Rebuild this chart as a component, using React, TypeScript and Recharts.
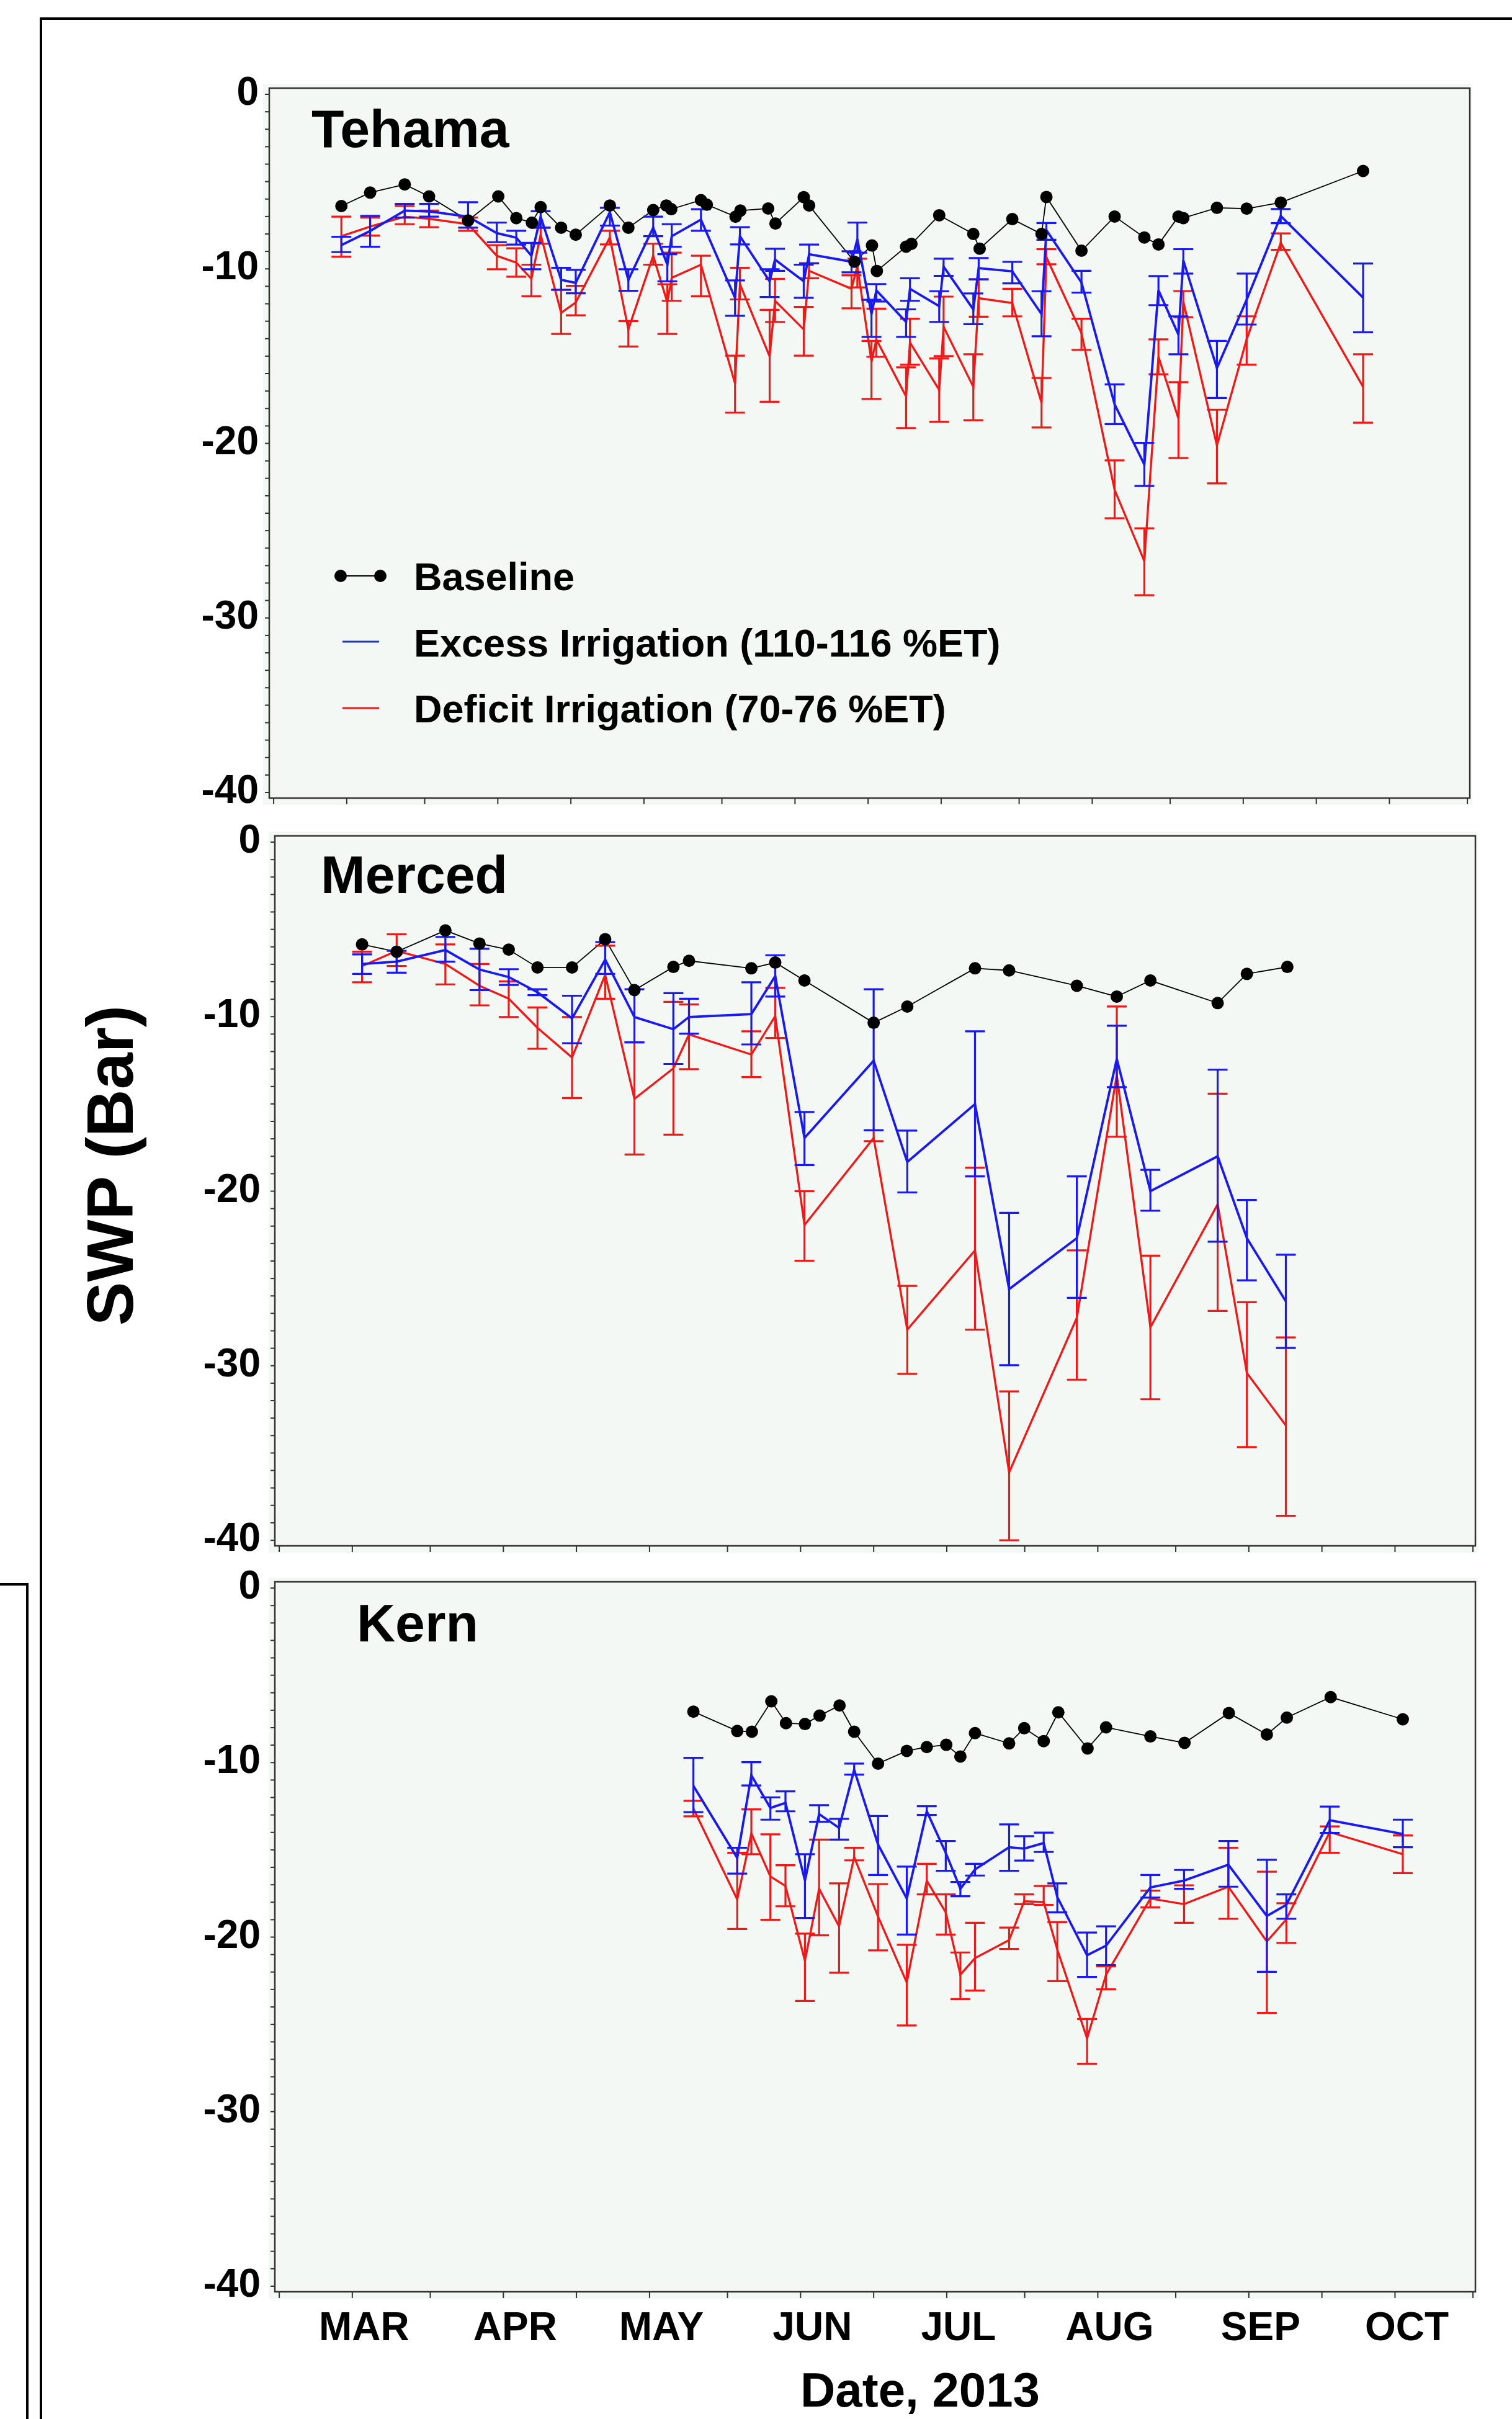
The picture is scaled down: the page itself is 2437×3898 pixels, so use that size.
import React from "react";
import { ComposedChart, Line, ErrorBar, XAxis, YAxis, ReferenceArea } from "recharts";

const FONT = "'Liberation Sans', Arial, Helvetica, sans-serif";
const FRAME = "#333333";
const BLUE = "#1a1aee";
const RED = "#ee1a1a";
const PANEL_BG = "#f4f8f4";

// x axis is the day of year (2013); ticks at the 1st and mid of each month
const xTicks = [45, 60, 76, 91, 106, 121, 137, 152, 167, 182, 198, 213, 229, 244, 259, 274, 290];
const monthDays = [60, 91, 121, 152, 182, 213, 244, 274];
const monthNames = ["MAR", "APR", "MAY", "JUN", "JUL", "AUG", "SEP", "OCT"];
const yMajor = [0, -10, -20, -30, -40];
const yTicks = Array.from({ length: 41 }, (_, i) => -i);

// ---- Tehama ----
const tehamaBaseDays = [58.9, 64.8, 71.9, 76.9, 84.9, 91.1, 94.8, 98.0, 99.8, 104.0, 107.0, 114.0, 117.8, 122.9, 125.6, 126.6, 132.7, 133.9, 139.8, 140.8, 146.5, 148.0, 153.8, 154.9, 164.2, 167.8, 168.8, 174.8, 175.9, 181.6, 188.6, 189.9, 196.6, 202.6, 203.6, 210.8, 217.6, 223.7, 226.6, 230.7, 231.7, 238.6, 244.7, 251.7, 268.6];
const tehamaBase = [-6.4, -5.63, -5.16, -5.85, -7.23, -5.85, -7.09, -7.35, -6.46, -7.64, -8.04, -6.37, -7.64, -6.63, -6.37, -6.58, -6.06, -6.32, -7.01, -6.66, -6.54, -7.4, -5.89, -6.37, -9.59, -8.66, -10.12, -8.73, -8.57, -6.93, -8.0, -8.84, -7.15, -8.0, -5.88, -8.96, -7.0, -8.2, -8.6, -7.0, -7.09, -6.5, -6.55, -6.2, -4.39];
const tehamaDays = [58.9, 64.8, 71.9, 76.9, 84.9, 90.8, 94.8, 97.9, 99.8, 104.0, 107.0, 114.0, 117.8, 122.9, 125.8, 126.7, 132.7, 139.7, 140.7, 146.8, 147.9, 153.8, 154.9, 163.6, 164.8, 167.7, 168.7, 174.8, 175.6, 181.6, 182.5, 188.6, 189.7, 196.6, 202.6, 203.6, 210.8, 217.6, 223.7, 226.6, 230.7, 231.7, 238.6, 244.7, 251.7, 268.6];
const tehamaExcess = [-8.64, -7.83, -6.66, -6.71, -7.01, -7.95, -8.21, -9.25, -7.01, -10.63, -10.8, -6.75, -10.63, -7.64, -9.76, -8.13, -7.18, -11.66, -8.13, -10.71, -9.47, -10.71, -9.16, -9.59, -8.3, -12.59, -11.23, -13.04, -11.14, -12.14, -9.87, -12.32, -9.96, -10.14, -12.59, -7.78, -10.78, -17.76, -21.21, -11.23, -13.77, -9.51, -15.68, -11.77, -6.97, -11.65];
const tehamaExcessHi = [-8.16, -6.96, -6.28, -6.28, -6.18, -7.35, -7.82, -8.51, -6.7, -9.94, -10.06, -6.5, -10.02, -7.01, -9.16, -7.44, -6.58, -10.66, -7.61, -10.02, -8.85, -9.76, -8.61, -8.99, -7.35, -11.77, -10.87, -12.32, -10.54, -11.28, -9.42, -11.41, -9.38, -9.6, -11.28, -7.37, -10.11, -16.62, -19.97, -10.41, -12.72, -8.87, -14.13, -10.27, -6.57, -9.69];
const tehamaExcessLo = [-9.04, -8.73, -7.06, -7.01, -7.64, -8.47, -8.61, -10.02, -7.64, -11.2, -11.4, -7.52, -11.26, -8.13, -10.71, -8.73, -7.82, -12.69, -8.6, -11.61, -10.11, -11.66, -9.68, -10.2, -9.07, -13.9, -11.87, -13.9, -11.83, -13.04, -10.4, -13.17, -10.6, -10.83, -13.86, -8.33, -11.36, -18.89, -22.44, -12.08, -14.89, -10.27, -17.4, -13.19, -7.38, -13.63];
const tehamaDeficit = [-8.13, -7.58, -7.01, -7.13, -7.44, -9.25, -9.64, -10.57, -8.04, -12.52, -11.92, -8.2, -13.47, -9.25, -11.92, -10.51, -9.76, -16.57, -10.88, -15.02, -11.83, -13.47, -10.11, -11.14, -9.85, -15.31, -14.04, -17.31, -14.22, -16.94, -13.32, -16.76, -11.68, -11.96, -17.67, -9.33, -13.68, -22.66, -26.74, -15.04, -18.58, -11.87, -20.12, -14.04, -8.51, -16.76];
const tehamaDeficitHi = [-7.01, -7.06, -6.4, -6.66, -7.06, -8.64, -8.82, -9.76, -7.64, -11.2, -10.97, -7.82, -12.99, -8.56, -10.88, -9.07, -9.25, -14.97, -9.94, -12.35, -10.57, -12.18, -9.68, -10.37, -9.42, -14.13, -12.28, -15.64, -12.86, -15.13, -11.59, -14.89, -10.6, -11.14, -16.25, -8.87, -12.86, -20.97, -24.87, -14.04, -16.49, -11.27, -18.07, -12.72, -7.97, -14.89];
const tehamaDeficitLo = [-9.3, -8.09, -7.44, -7.61, -7.82, -10.02, -10.45, -11.57, -8.56, -13.73, -12.66, -8.6, -14.45, -9.76, -13.73, -11.83, -11.57, -18.24, -11.75, -17.61, -13.04, -14.97, -10.54, -12.26, -11.06, -17.45, -15.04, -19.12, -15.49, -18.76, -15.0, -18.67, -12.74, -12.72, -19.09, -9.74, -14.64, -24.29, -28.7, -16.04, -20.84, -12.77, -22.29, -15.49, -8.91, -18.81];

// ---- Merced ----
const mercedBaseDays = [62.0, 69.1, 79.1, 86.1, 92.1, 98.0, 105.1, 111.9, 117.9, 125.9, 129.1, 141.9, 146.8, 152.8, 167.0, 173.9, 187.8, 194.8, 208.7, 216.9, 223.8, 237.6, 243.6, 251.9];
const mercedBase = [-5.86, -6.28, -5.06, -5.81, -6.16, -7.18, -7.18, -5.56, -8.48, -7.15, -6.8, -7.23, -6.9, -7.93, -10.35, -9.42, -7.23, -7.35, -8.23, -8.85, -7.93, -9.22, -7.55, -7.15];
const mercedDays = [62.0, 69.1, 79.1, 86.1, 92.1, 98.0, 105.1, 111.9, 117.9, 125.9, 129.1, 141.9, 146.8, 152.8, 167.0, 173.9, 187.8, 194.8, 208.7, 216.9, 223.8, 237.6, 243.6, 251.6];
const mercedExcess = [-6.98, -6.85, -6.18, -7.3, -7.73, -8.6, -10.1, -6.73, -10.02, -10.72, -10.02, -9.85, -7.68, -16.95, -12.52, -18.33, -15.01, -25.61, -22.69, -12.42, -20.0, -18.0, -22.69, -26.31];
const mercedExcessHi = [-6.43, -6.23, -5.43, -6.11, -7.28, -8.43, -8.8, -5.73, -8.43, -8.65, -8.97, -8.03, -6.48, -15.46, -8.43, -16.53, -10.84, -21.24, -19.15, -10.52, -18.78, -13.04, -20.5, -23.64];
const mercedExcessLo = [-7.55, -7.48, -6.85, -8.48, -8.18, -8.77, -11.52, -7.55, -11.47, -12.71, -10.97, -11.59, -8.85, -18.5, -16.51, -20.07, -19.15, -29.97, -26.11, -14.04, -21.12, -22.89, -25.11, -28.98];
const mercedDeficit = [-7.1, -6.23, -6.98, -8.23, -8.97, -10.64, -12.34, -7.6, -14.71, -12.96, -11.02, -12.17, -9.97, -21.94, -16.95, -27.93, -23.39, -36.11, -27.25, -13.34, -27.8, -20.75, -30.42, -33.42];
const mercedDeficitHi = [-6.28, -5.28, -5.86, -6.98, -7.98, -9.47, -10.02, -5.93, -11.47, -9.15, -9.3, -10.84, -8.35, -20.0, -16.51, -25.43, -18.65, -31.47, -23.39, -9.42, -23.69, -14.41, -26.36, -28.38];
const mercedDeficitLo = [-8.03, -7.1, -8.15, -9.35, -10.02, -11.84, -14.66, -8.97, -17.9, -16.76, -13.01, -13.46, -11.22, -23.99, -17.13, -30.47, -27.93, -40.0, -30.8, -16.88, -31.92, -26.86, -34.66, -38.6];

// ---- Kern ----
const kernBaseDays = [130.0, 139.0, 142.0, 146.0, 149.0, 152.9, 155.9, 160.0, 163.0, 167.9, 173.8, 177.9, 181.9, 184.8, 187.8, 194.8, 197.9, 201.9, 204.9, 210.9, 214.7, 223.8, 230.8, 239.9, 247.7, 251.8, 260.8, 275.6];
const kernBase = [-7.08, -8.19, -8.23, -6.49, -7.74, -7.79, -7.31, -6.73, -8.23, -10.06, -9.33, -9.11, -8.98, -9.65, -8.31, -8.9, -8.03, -8.77, -7.12, -9.19, -7.98, -8.5, -8.87, -7.16, -8.39, -7.42, -6.25, -7.52];
const kernDays = [130.0, 139.0, 141.9, 145.8, 148.9, 152.9, 155.8, 159.9, 163.0, 167.9, 173.8, 177.9, 181.8, 184.8, 187.8, 194.8, 197.9, 201.9, 204.7, 210.8, 214.7, 223.8, 230.7, 239.8, 247.7, 251.7, 260.6, 275.6];
const kernExcess = [-11.33, -15.46, -10.73, -12.6, -12.31, -16.76, -12.95, -13.74, -10.41, -14.69, -17.79, -12.79, -15.17, -17.23, -16.12, -14.85, -14.93, -14.61, -17.71, -21.04, -20.49, -17.15, -16.76, -15.85, -18.79, -18.15, -13.3, -14.09];
const kernExcessHi = [-9.73, -14.88, -9.98, -11.99, -11.65, -15.25, -12.44, -13.22, -10.06, -13.06, -15.96, -12.5, -14.49, -16.84, -15.8, -13.54, -14.22, -14.01, -16.92, -19.74, -19.38, -16.44, -16.15, -14.49, -15.57, -17.55, -12.52, -13.27];
const kernExcessLo = [-12.84, -16.36, -11.31, -13.27, -12.79, -18.9, -13.39, -14.41, -10.69, -16.44, -19.85, -13.0, -16.2, -17.66, -16.47, -16.2, -15.61, -15.12, -18.58, -22.28, -21.6, -17.74, -17.23, -17.11, -21.99, -18.95, -14.03, -14.85];
const kernDeficit = [-12.63, -17.84, -14.06, -16.52, -17.07, -21.36, -17.23, -19.38, -15.41, -18.82, -22.6, -16.76, -18.58, -22.15, -21.2, -20.17, -17.95, -17.99, -20.72, -25.8, -22.15, -17.79, -18.11, -17.11, -20.25, -18.98, -13.98, -15.25];
const kernDeficitHi = [-12.19, -15.17, -12.68, -14.11, -15.88, -19.8, -14.41, -16.92, -14.88, -16.96, -20.44, -15.8, -17.55, -20.88, -19.18, -19.45, -17.55, -17.07, -19.14, -24.69, -21.68, -17.34, -17.03, -14.88, -16.25, -18.06, -13.66, -14.17];
const kernDeficitLo = [-13.08, -19.53, -15.25, -19.01, -18.23, -23.66, -19.9, -22.04, -15.6, -20.76, -25.06, -17.55, -19.85, -23.55, -23.06, -20.68, -18.11, -18.15, -22.52, -27.26, -22.99, -18.3, -19.18, -18.95, -24.34, -20.33, -15.17, -16.33];

type BaseRow = { d: number; v: number };
type TrtRow = { d: number; m: number; e: [number, number] };

const toBase = (days: number[], vals: number[]): BaseRow[] => days.map((d, i) => ({ d, v: vals[i] }));
const toTrt = (days: number[], mean: number[], hi: number[], lo: number[]): TrtRow[] =>
  days.map((d, i) => ({ d, m: mean[i], e: [+(mean[i] - lo[i]).toFixed(2), +(hi[i] - mean[i]).toFixed(2)] }));

const X_DOMAIN: [number, number] = [44.1, 290.5];
const Y_DOMAIN: [number, number] = [-40.32, 0.356];
const FRAME_H = 1144;

type PanelProps = {
  top: number;
  height: number;
  frameTop: number;
  frameLeft: number;
  frameRight: number;
  labelRight: number;
  base: BaseRow[];
  excess: TrtRow[];
  deficit: TrtRow[];
  months: boolean;
};

function Panel(p: PanelProps) {
  const frameBottom = p.frameTop + FRAME_H;
  const yTick = (props: any) => {
    const { y, payload } = props;
    if (!yMajor.includes(payload.value)) return <g />;
    return (
      <text x={p.labelRight} y={y + 17} textAnchor="end" fontFamily={FONT} fontWeight="bold" fontSize={64} fill="#000">
        {payload.value}
      </text>
    );
  };
  const xTick = (props: any) => {
    const { x, payload } = props;
    const idx = monthDays.indexOf(payload.value);
    if (!p.months || idx < 0) return <g />;
    return (
      <text x={x + 19} y={3771 - p.top} textAnchor="middle" fontFamily={FONT} fontWeight="bold" fontSize={64} fill="#000">
        {monthNames[idx]}
      </text>
    );
  };
  return (
    <div style={{ position: "absolute", left: 0, top: p.top }}>
      <ComposedChart
        width={2437}
        height={p.height}
        margin={{ top: p.frameTop - p.top, right: 2437 - p.frameRight, left: 0, bottom: 0 }}
      >
        <XAxis
          xAxisId="x"
          type="number"
          dataKey="d"
          domain={X_DOMAIN}
          allowDataOverflow
          ticks={xTicks}
          interval={0}
          height={p.top + p.height - frameBottom}
          axisLine={false}
          tickLine={{ stroke: FRAME, strokeWidth: 2 }}
          tickSize={10}
          tick={xTick}
        />
        <YAxis
          yAxisId="y"
          type="number"
          domain={Y_DOMAIN}
          allowDataOverflow
          ticks={yTicks}
          interval={0}
          width={p.frameLeft}
          axisLine={false}
          tickLine={{ stroke: FRAME, strokeWidth: 2 }}
          tickSize={7}
          tick={yTick}
        />
        <ReferenceArea
          xAxisId="x"
          yAxisId="y"
          x1={X_DOMAIN[0]}
          x2={X_DOMAIN[1]}
          y1={Y_DOMAIN[0]}
          y2={Y_DOMAIN[1]}
          fill="none"
          fillOpacity={0}
          stroke={FRAME}
          strokeWidth={2.5}
          ifOverflow="visible"
        />
        <Line
          xAxisId="x"
          yAxisId="y"
          data={p.base}
          dataKey="v"
          stroke="#000"
          strokeWidth={1.8}
          dot={{ r: 10, fill: "#000", stroke: "#000", strokeWidth: 0 }}
          activeDot={false}
          isAnimationActive={false}
        />
        <Line
          xAxisId="x"
          yAxisId="y"
          data={p.deficit}
          dataKey="m"
          stroke={RED}
          strokeWidth={3.4}
          dot={false}
          activeDot={false}
          isAnimationActive={false}
        >
          <ErrorBar dataKey="e" width={16} stroke={RED} strokeWidth={3.2} direction="y" isAnimationActive={false} />
        </Line>
        <Line
          xAxisId="x"
          yAxisId="y"
          data={p.excess}
          dataKey="m"
          stroke={BLUE}
          strokeWidth={3.8}
          dot={false}
          activeDot={false}
          isAnimationActive={false}
        >
          <ErrorBar dataKey="e" width={16} stroke={BLUE} strokeWidth={3.2} direction="y" isAnimationActive={false} />
        </Line>
      </ComposedChart>
    </div>
  );
}

const panels = [
  { name: "Tehama", titleX: 502, titleY: 237, top: 100, height: 1250, frameTop: 142, frameLeft: 434, frameRight: 2369, labelRight: 417 },
  { name: "Merced", titleX: 517, titleY: 1439, top: 1300, height: 1250, frameTop: 1347, frameLeft: 443, frameRight: 2378, labelRight: 420 },
  { name: "Kern", titleX: 575, titleY: 2645, top: 2500, height: 1398, frameTop: 2549, frameLeft: 443, frameRight: 2378, labelRight: 420 },
];

const panelData = [
  {
    base: toBase(tehamaBaseDays, tehamaBase),
    excess: toTrt(tehamaDays, tehamaExcess, tehamaExcessHi, tehamaExcessLo),
    deficit: toTrt(tehamaDays, tehamaDeficit, tehamaDeficitHi, tehamaDeficitLo),
  },
  {
    base: toBase(mercedBaseDays, mercedBase),
    excess: toTrt(mercedDays, mercedExcess, mercedExcessHi, mercedExcessLo),
    deficit: toTrt(mercedDays, mercedDeficit, mercedDeficitHi, mercedDeficitLo),
  },
  {
    base: toBase(kernBaseDays, kernBase),
    excess: toTrt(kernDays, kernExcess, kernExcessHi, kernExcessLo),
    deficit: toTrt(kernDays, kernDeficit, kernDeficitHi, kernDeficitLo),
  },
];

export default function App() {
  const txt = { fontFamily: FONT, fontWeight: "bold" as const, fill: "#000" };
  return (
    <div style={{ position: "absolute", left: 0, top: 0, width: 2437, height: 3898, background: "#fff", overflow: "hidden" }}>
      <svg width={2437} height={3898} style={{ position: "absolute", left: 0, top: 0 }}>
        <path d="M66 3898 V30 H2437" stroke="#000" strokeWidth={4} fill="none" />
        <path d="M0 2553 H44 V3898" stroke="#000" strokeWidth={4} fill="none" />
        {panels.map((p) => (
          <rect
            key={p.name + "bg"}
            x={p.frameLeft - 10}
            y={p.frameTop - 7}
            width={p.frameRight - p.frameLeft + 14}
            height={FRAME_H + 18}
            fill={PANEL_BG}
          />
        ))}
        {panels.map((p) => (
          <text key={p.name} x={p.titleX} y={p.titleY} fontSize={86} {...txt}>
            {p.name}
          </text>
        ))}
        {/* legend */}
        <line x1={549} y1={928} x2={613} y2={928} stroke="#000" strokeWidth={2} />
        <circle cx={549} cy={928} r={10} fill="#000" />
        <circle cx={613} cy={928} r={10} fill="#000" />
        <text x={667} y={951} fontSize={63} {...txt}>Baseline</text>
        <line x1={552} y1={1034} x2={611} y2={1034} stroke="#2038b0" strokeWidth={3} />
        <text x={667} y={1058} fontSize={63} {...txt}>Excess Irrigation (110-116 %ET)</text>
        <line x1={552} y1={1141} x2={611} y2={1141} stroke={RED} strokeWidth={3} />
        <text x={667} y={1164} fontSize={63} {...txt}>Deficit Irrigation (70-76 %ET)</text>
        <text transform="translate(214,1878) rotate(-90)" textAnchor="middle" fontSize={106} {...txt}>
          SWP (Bar)
        </text>
        <text x={1483} y={3878} textAnchor="middle" fontSize={78} {...txt}>
          Date, 2013
        </text>
      </svg>
      {panels.map((p, i) => (
        <Panel
          key={p.name + "chart"}
          top={p.top}
          height={p.height}
          frameTop={p.frameTop}
          frameLeft={p.frameLeft}
          frameRight={p.frameRight}
          labelRight={p.labelRight}
          base={panelData[i].base}
          excess={panelData[i].excess}
          deficit={panelData[i].deficit}
          months={i === 2}
        />
      ))}
    </div>
  );
}
